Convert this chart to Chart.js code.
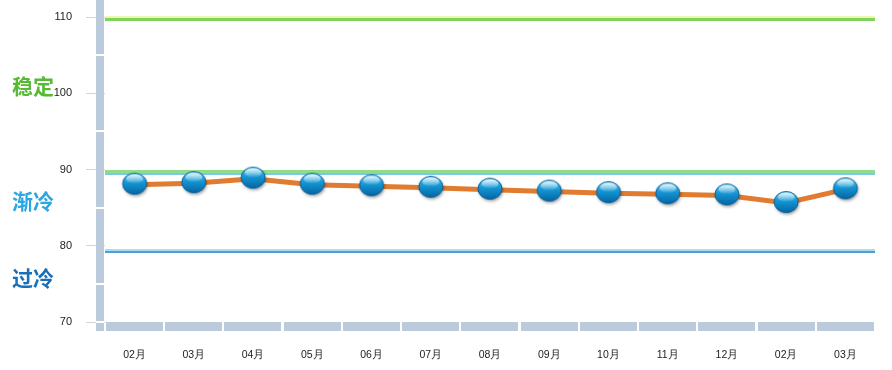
<!DOCTYPE html>
<html>
<head>
<meta charset="utf-8">
<script src="https://cdn.jsdelivr.net/npm/chart.js@4/dist/chart.umd.min.js"></script>
<style>
  html, body { margin: 0; padding: 0; background: #fff; }
  #wrap { width: 892px; height: 370px; }
</style>
</head>
<body>
<div id="wrap"><canvas id="myChart" width="892" height="370"></canvas></div>
<script>
// data
var months = ['02月', '03月', '04月', '05月', '06月', '07月', '08月', '09月', '10月', '11月', '12月', '02月', '03月'];
var values = [88.0, 88.2, 88.8, 88.0, 87.8, 87.6, 87.35, 87.1, 86.9, 86.75, 86.6, 85.6, 87.4];
var yTicks = [70, 80, 90, 100, 110];
var zoneNames = ['稳定', '渐冷', '过冷'];
var zoneLabelAt = [101, 85.9, 75.8];
var greenLines = [109.7, 89.85];
var blueLines = [89.7, 79.5];
var barBreaks = [70, 75, 85, 95, 105];

// glossy blue ball used as the point marker
function makeBall() {
    var c = document.createElement('canvas');
    c.width = 32; c.height = 30;
    var g = c.getContext('2d');
    g.save();
    g.shadowColor = 'rgba(0,0,0,0.35)';
    g.shadowBlur = 3;
    g.shadowOffsetX = 1;
    g.shadowOffsetY = 2;
    g.beginPath();
    g.ellipse(16, 14, 12, 10.5, 0, 0, Math.PI * 2);
    var grad = g.createLinearGradient(0, 3.5, 0, 24.5);
    grad.addColorStop(0, '#5ccbf2');
    grad.addColorStop(0.45, '#1596d4');
    grad.addColorStop(1, '#0565a3');
    g.fillStyle = grad;
    g.fill();
    g.restore();
    g.lineWidth = 1;
    g.strokeStyle = '#0a5f96';
    g.beginPath();
    g.ellipse(16, 14, 12, 10.5, 0, 0, Math.PI * 2);
    g.stroke();
    // highlight
    g.beginPath();
    g.ellipse(16, 9, 8.5, 4.5, 0, 0, Math.PI * 2);
    var hi = g.createLinearGradient(0, 4.5, 0, 13.5);
    hi.addColorStop(0, 'rgba(255,255,255,0.85)');
    hi.addColorStop(1, 'rgba(255,255,255,0.05)');
    g.fillStyle = hi;
    g.fill();
    return c;
}
var ball = makeBall();

var decor = {
    id: 'decor',
    beforeDatasetsDraw: function (chart) {
        var ctx = chart.ctx, area = chart.chartArea;
        var y = chart.scales.y, x = chart.scales.x;
        var w = area.right - area.left;
        ctx.save();
        // level lines
        greenLines.forEach(function (v, i) {
            var p = Math.round(y.getPixelForValue(v));
            if (i === 0) {
                ctx.fillStyle = '#eef7b0';
                ctx.fillRect(area.left, p - 3, w, 2);
                ctx.fillStyle = '#7fd35a';
            } else {
                ctx.fillStyle = '#8fdc8a';
            }
            ctx.fillRect(area.left, p - 1, w, 3);
        });
        blueLines.forEach(function (v, i) {
            var p = Math.round(y.getPixelForValue(v));
            if (i === 0) {
                ctx.fillStyle = '#7cc8ea';
                ctx.fillRect(area.left, p + 1, w, 2);
            } else {
                ctx.fillStyle = '#a9dcf2';
                ctx.fillRect(area.left, p - 1, w, 2);
                ctx.fillStyle = '#4f9fd2';
                ctx.fillRect(area.left, p + 1, w, 2);
            }
        });
        // left axis bar
        ctx.fillStyle = '#bccbdb';
        ctx.fillRect(area.left - 9, 0, 8, area.bottom + 9);
        ctx.fillStyle = '#ffffff';
        barBreaks.forEach(function (v) {
            var p = Math.round(y.getPixelForValue(v));
            ctx.fillRect(area.left - 9, p - 1, 8, 2);
        });
        // bottom axis bar, one piece per category
        ctx.fillStyle = '#bccbdb';
        var half = (x.getPixelForValue(1) - x.getPixelForValue(0)) / 2;
        months.forEach(function (m, i) {
            var cx = x.getPixelForValue(i);
            ctx.fillRect(Math.round(cx - half) + 1, area.bottom, Math.round(2 * half) - 2, 9);
        });
        // zone names
        ctx.font = 'bold 21px "Noto Sans CJK SC"';
        ctx.textBaseline = 'middle';
        ctx.textAlign = 'left';
        var zoneColors = ['#56bb32', '#2ba6e1', '#1a70b8'];
        zoneNames.forEach(function (t, i) {
            ctx.fillStyle = zoneColors[i];
            ctx.fillText(t, 12, y.getPixelForValue(zoneLabelAt[i]));
        });
        ctx.restore();
    }
};

var ctx = document.getElementById('myChart').getContext('2d');
var chart = new Chart(ctx, {
    type: 'line',
    data: {
        labels: months,
        datasets: [{
            data: values,
            borderColor: '#e07b30',
            borderWidth: 5,
            tension: 0,
            pointStyle: ball,
            pointRadius: 12,
            pointHoverRadius: 12
        }]
    },
    options: {
        responsive: false,
        animation: false,
        layout: { padding: { top: 15, right: 15, left: 0, bottom: 0 } },
        plugins: { legend: { display: false }, tooltip: { enabled: false } },
        scales: {
            x: {
                offset: true,
                grid: { display: false },
                border: { display: false },
                ticks: {
                    padding: 19,
                    color: '#222',
                    font: { family: 'Liberation Sans', size: 10.5 },
                    maxRotation: 0,
                    autoSkip: false
                },
                afterFit: function (s) { s.height = 48; }
            },
            y: {
                min: 70,
                max: 110,
                afterBuildTicks: function (s) {
                    s.ticks = yTicks.map(function (v) { return { value: v }; });
                },
                grid: { drawOnChartArea: false, tickLength: 19, color: '#d4d4d4' },
                border: { display: false },
                ticks: {
                    padding: 14,
                    color: '#222',
                    font: { family: 'Liberation Sans', size: 11 }
                },
                afterFit: function (s) {
                    s.width = 105;
                    s.paddingTop = 0;
                    s.paddingBottom = 0;
                }
            }
        }
    },
    plugins: [decor]
});
</script>
</body>
</html>
